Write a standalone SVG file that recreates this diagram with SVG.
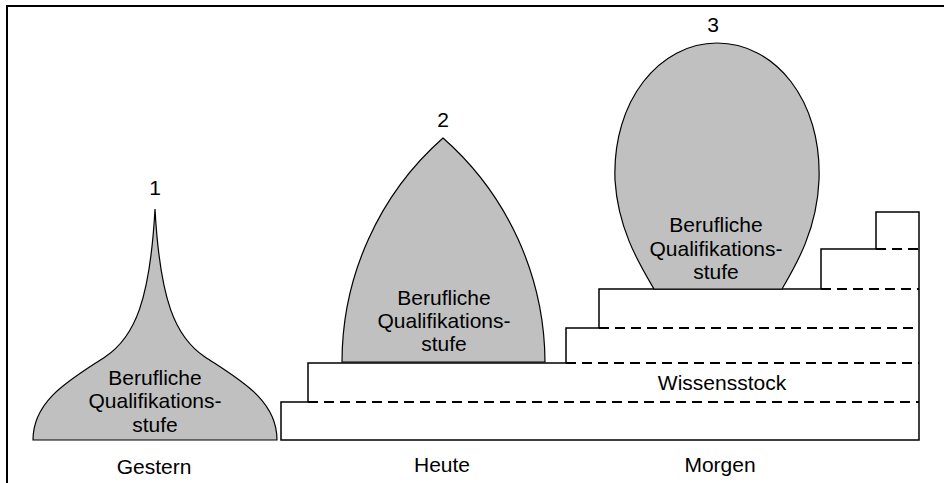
<svg xmlns="http://www.w3.org/2000/svg" width="944" height="483" viewBox="0 0 944 483">
<style>
text{font-family:"Liberation Sans",Arial,sans-serif;font-size:21px;fill:#000;text-anchor:middle}
.shape{fill:#c0c0c0;stroke:#000;stroke-width:1.2}
.solid{fill:none;stroke:#000;stroke-width:1.5}
.dash{fill:none;stroke:#000;stroke-width:1.8;stroke-dasharray:10 6}
.frame{fill:none;stroke:#000;stroke-width:2}
</style>
<rect width="944" height="483" fill="#fff"/>
<path class="frame" d="M944,6 H7 V483"/>
<g id="stairs">
<path class="solid" d="M281,440 V402 H308 V363 H566 V328 H599 V289 H821 V249 H876 V212 H919 V440 Z"/>
<path class="dash" d="M308,402 H919 M566,363 H919 M599,328 H919 M821,289 H919 M876,249 H919"/>
<text x="722" y="390">Wissensstock</text>
</g>
<g id="shape1">
<path class="shape" d="M33,440 C33,400 70,380 105,357 C135,337 150,300 155,209 C160,300 175,337 205,357 C240,380 277,400 277,440 Z"/>
<text x="155" y="195">1</text>
<text x="155" y="385">Berufliche</text>
<text x="155" y="408">Qualifikations-</text>
<text x="155" y="432">stufe</text>
</g>
<g id="shape2">
<path class="shape" d="M342,362 A299,299 0 0 1 443,138 A300,300 0 0 1 545,362 Z"/>
<text x="443" y="127">2</text>
<text x="444" y="305">Berufliche</text>
<text x="444" y="328">Qualifikations-</text>
<text x="444" y="351">stufe</text>
</g>
<g id="shape3">
<path class="shape" d="M654,289 C640,265 618,230 615,180 C612,100 660,43 717,43 C775,43 822,100 819,180 C817,230 796,265 782,289 Z"/>
<text x="713" y="32">3</text>
<text x="716" y="232">Berufliche</text>
<text x="716" y="256">Qualifikations-</text>
<text x="716" y="279">stufe</text>
</g>
<g id="labels">
<text x="154" y="474">Gestern</text>
<text x="442" y="472">Heute</text>
<text x="720" y="472">Morgen</text>
</g>
</svg>
